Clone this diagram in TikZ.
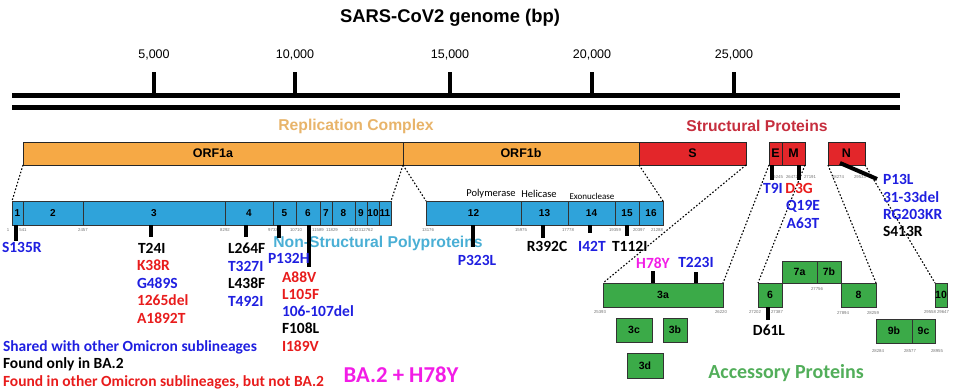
\documentclass[tikz,border=0pt]{standalone}
\usepackage{fontspec}
\setmainfont{Carlito}
\newfontfamily\arial{Liberation Sans}
\definecolor{orfc}{HTML}{F6A945}
\definecolor{redbox}{HTML}{E3262A}
\definecolor{nspc}{HTML}{2FA3DA}
\definecolor{accc}{HTML}{3BAA48}
\definecolor{repc}{HTML}{E8B46A}
\definecolor{strc}{HTML}{C62E3E}
\definecolor{nstc}{HTML}{4AAFD5}
\definecolor{acctc}{HTML}{52AE5A}
\definecolor{mb}{HTML}{1F1FE0}
\definecolor{mr}{HTML}{E81C1C}
\definecolor{mm}{HTML}{F21CE6}
\begin{document}
\begin{tikzpicture}[x=1pt,y=-1pt,
  every node/.style={inner sep=0pt,outer sep=0pt},
  genebox/.style={draw=black!85,line width=0.8pt,minimum height=23pt,font=\arial\bfseries\fontsize{12.5}{14}\selectfont},
  nspbox/.style={draw=black!80,line width=0.8pt,fill=nspc,minimum height=24pt,font=\arial\bfseries\fontsize{10}{11}\selectfont},
  accbox/.style={draw=black!80,line width=0.8pt,fill=accc,font=\arial\bfseries\fontsize{10.5}{12}\selectfont},
  mutlab/.style={font=\bfseries\fontsize{15.5}{17}\selectfont},
  posnum/.style={font=\arial\fontsize{4.3}{5}\selectfont,text=black!55},
  dots/.style={line width=1.1pt,dash pattern=on 1.6pt off 1.9pt},
  mtick/.style={line width=3.2pt},
  regionlab/.style={font=\arial\bfseries\fontsize{15.7}{18}\selectfont}
]
\useasboundingbox (0,0) rectangle (959,391);

% ---------- genome axis ----------
\node[font=\arial\bfseries\fontsize{18.4}{21}\selectfont] (title) at (450,18) {SARS-CoV2 genome (bp)};
\coordinate (axL) at (12,95); \coordinate (axR) at (900,95);
\coordinate (axL2) at (12,107); \coordinate (axR2) at (900,107);
\draw[line width=5pt] (axL) -- (axR);
\draw[line width=5pt] (axL2) -- (axR2);
\foreach \x/\t/\n in {154/{5,000}/a,295/{10,000}/b,450/{15,000}/c,592/{20,000}/d,734/{25,000}/e}{
  \node[font=\arial\fontsize{12.5}{14}\selectfont] (tl\n) at (\x,55) {\t};
  \coordinate (tk\n) at (\x,72);
  \draw[line width=4pt] (tk\n) -- (tk\n |- axL);
}

% ---------- region labels ----------
\node[regionlab,text=repc] (replab) at (356,126) {Replication Complex};
\node[regionlab,text=strc] (strlab) at (757,126) {Structural Proteins};

% ---------- gene bar ----------
\node[genebox,fill=orfc,minimum width=380pt] (orf1a) at (213,153.5) {ORF1a};
\node[genebox,fill=orfc,minimum width=236pt] (orf1b) at (521,153.5) {ORF1b};
\node[genebox,fill=redbox,minimum width=107pt] (S) at (692.5,153.5) {S};
\node[genebox,fill=redbox,minimum width=13pt] (E) at (775.5,153.5) {E};
\node[genebox,fill=redbox,minimum width=23pt] (M) at (793.5,153.5) {M};
\node[genebox,fill=redbox,minimum width=37pt] (N) at (846.5,153.5) {N};

% ---------- nsp bars ----------
\foreach \n/\c/\w in {1/17.5/11,2/53/60,3/154/142,4/249/48,5/284.5/23,6/308/24,7/326/12,8/343.5/23,9/361/12,10/373/12,11/385/12,12/473.5/95,13/544.5/47,14/591.5/47,15/627/24,16/651/24}{
  \node[nspbox,minimum width=\w pt] (n\n) at (\c,213) {\n};
}
\node[font=\fontsize{10.5}{12}\selectfont] (poly) at (491,194) {Polymerase};
\node[font=\fontsize{10.5}{12}\selectfont] (heli) at (539,194) {Helicase};
\node[font=\fontsize{9}{10}\selectfont] (exo) at (592,196) {Exonuclease};
\foreach \x/\t in {8/1,23/541,83/2457,225/8292,273/9733,296/10710,318/11589,332/11829,355/12423,367/12762,428/13176,521/15975,568/17778,615/19359,639/20397,657/21288}{
  \node[posnum] at (\x,230) {\t};
}

% ---------- accessory boxes ----------
\node[accbox,minimum width=120pt,minimum height=24pt] (a3a) at (663,295) {3a};
\node[accbox,minimum width=36pt,minimum height=24pt] (a3c) at (634,330) {3c};
\node[accbox,minimum width=24pt,minimum height=24pt] (a3b) at (675,330) {3b};
\node[accbox,minimum width=36pt,minimum height=25pt] (a3d) at (645,365.5) {3d};
\node[accbox,minimum width=24pt,minimum height=24pt] (a6) at (770,295) {6};
\node[accbox,minimum width=35pt,minimum height=22pt] (a7a) at (799.5,272) {7a};
\node[accbox,minimum width=24pt,minimum height=22pt] (a7b) at (829,272) {7b};
\node[accbox,minimum width=35pt,minimum height=24pt] (a8) at (858.5,295) {8};
\node[accbox,minimum width=12pt,minimum height=24pt] (a10) at (941,295) {10};
\node[accbox,minimum width=36pt,minimum height=24pt] (a9b) at (894,331) {9b};
\node[accbox,minimum width=23pt,minimum height=24pt] (a9c) at (923.5,331) {9c};
\foreach \x/\y/\t in {600/312/25393,721/312/26220,755/312/27202,777/312/27387,817/289/27756,843/313/27894,873/313/28259,930/312/29558,943/312/29647,878/351/28284,910/351/28577,937/351/28955,777/177/26245,792/177/26472,810/177/27191,838/177/28274,860/177/29533}{
  \node[posnum] at (\x,\y) {\t};
}

% ---------- dotted connectors ----------
\draw[dots] (orf1a.south west) -- (n1.north west);
\draw[dots] (orf1a.south east) -- (n11.north east);
\draw[dots] (orf1a.south east) -- (n12.north west);
\draw[dots] (orf1b.south east) -- (n16.north east);
\draw[dots] (S.south east) -- (a3a.north west);
\draw[dots] (E.south west) -- (a3a.north east);
\draw[dots] (M.south east) -- (a6.north west);
\draw[dots] (N.south west) -- (a8.north east);
\draw[dots] (N.south east) -- (a10.north west);

% ---------- big labels ----------
\node[regionlab,text=nstc] (nsplab) at (378,243) {Non-Structural Polyproteins};
\node[font=\bfseries\fontsize{20}{22}\selectfont,text=acctc] (acclab) at (786,373) {Accessory Proteins};

% ---------- mutation ticks ----------
\draw[mtick] (16,0 |- n1.south) -- (16,241);
\draw[mtick] (151,0 |- n3.south) -- (151,237);
\draw[mtick] (246,0 |- n4.south) -- (246,237);
\draw[mtick] (279,0 |- n5.south) -- (279,238);
\draw[mtick] (309,0 |- n6.south) -- (309,267);
\draw[mtick] (473,0 |- n12.south) -- (473,247);
\draw[mtick] (543,0 |- n13.south) -- (543,238);
\draw[mtick] (590,0 |- n14.south) -- (590,233);
\draw[mtick] (627,0 |- n15.south) -- (627,236);
\draw[mtick] (772,0 |- E.south) -- (772,180);
\draw[mtick] (799,0 |- M.south) -- (799,180);
\coordinate (nmut) at (877,179);
\draw[line width=4pt] (840,163) -- (nmut);
\draw[mtick] (653,271) -- (653,0 |- a3a.north);
\draw[mtick] (696,272) -- (696,0 |- a3a.north);
\draw[mtick] (768,0 |- a6.south) -- (768,320);

% ---------- mutation labels ----------
\node[mutlab,text=mb,anchor=west] (s135r) at (2,247) {S135R};
\node[mutlab,anchor=west] (t24i) at (138,248) {T24I};
\node[mutlab,text=mr,anchor=west] (k38r) at (137,265.5) {K38R};
\node[mutlab,text=mb,anchor=west] (g489s) at (137,283) {G489S};
\node[mutlab,text=mr,anchor=west] (del1265) at (137,300.5) {1265del};
\node[mutlab,text=mr,anchor=west] (a1892t) at (137,318) {A1892T};
\node[mutlab,anchor=west] (l264f) at (228,248) {L264F};
\node[mutlab,text=mb,anchor=west] (t327i) at (228,266) {T327I};
\node[mutlab,anchor=west] (l438f) at (228,283) {L438F};
\node[mutlab,text=mb,anchor=west] (t492i) at (228,301) {T492I};
\node[mutlab,text=mb,anchor=west] (p132h) at (268,258) {P132H};
\node[mutlab,text=mr,anchor=west] (a88v) at (282,277) {A88V};
\node[mutlab,text=mr,anchor=west] (l105f) at (282,294) {L105F};
\node[mutlab,text=mb,anchor=west] (del106) at (282,311) {106-107del};
\node[mutlab,anchor=west] (f108l) at (282,328) {F108L};
\node[mutlab,text=mr,anchor=west] (i189v) at (282,346) {I189V};
\node[mutlab,text=mb] (p323l) at (477,260) {P323L};
\node[mutlab] (r392c) at (547,246) {R392C};
\node[mutlab,text=mb] (i42t) at (592,246) {I42T};
\node[mutlab,anchor=west] (t112i) at (612,246) {T112I};
\node[mutlab,text=mb] (t9i) at (773,188) {T9I};
\node[mutlab,text=mr] (d3g) at (799,188) {D3G};
\node[mutlab,text=mb] (q19e) at (803,206) {Q19E};
\node[mutlab,text=mb] (a63t) at (803,223) {A63T};
\node[mutlab,text=mb,anchor=west] (p13l) at (883,179) {P13L};
\node[mutlab,text=mb,anchor=west] (del31) at (883,197) {31-33del};
\node[mutlab,text=mb,anchor=west] (rg203kr) at (883,214) {RG203KR};
\node[mutlab,anchor=west] (s413r) at (883,231) {S413R};
\node[mutlab,text=mm] (h78y) at (653,263) {H78Y};
\node[mutlab,text=mb] (t223i) at (696,262) {T223I};
\node[mutlab] (d61l) at (769,330) {D61L};

% ---------- legend ----------
\node[mutlab,text=mb,anchor=west] (leg1) at (3,347) {Shared with other Omicron sublineages};
\node[mutlab,anchor=west] (leg2) at (3,364) {Found only in BA.2};
\node[mutlab,text=mr,anchor=west] (leg3) at (3,382) {Found in other Omicron sublineages, but not BA.2};
\node[font=\bfseries\fontsize{22.7}{25}\selectfont,text=mm] (ba2) at (401,375) {BA.2 + H78Y};
\end{tikzpicture}
\end{document}
